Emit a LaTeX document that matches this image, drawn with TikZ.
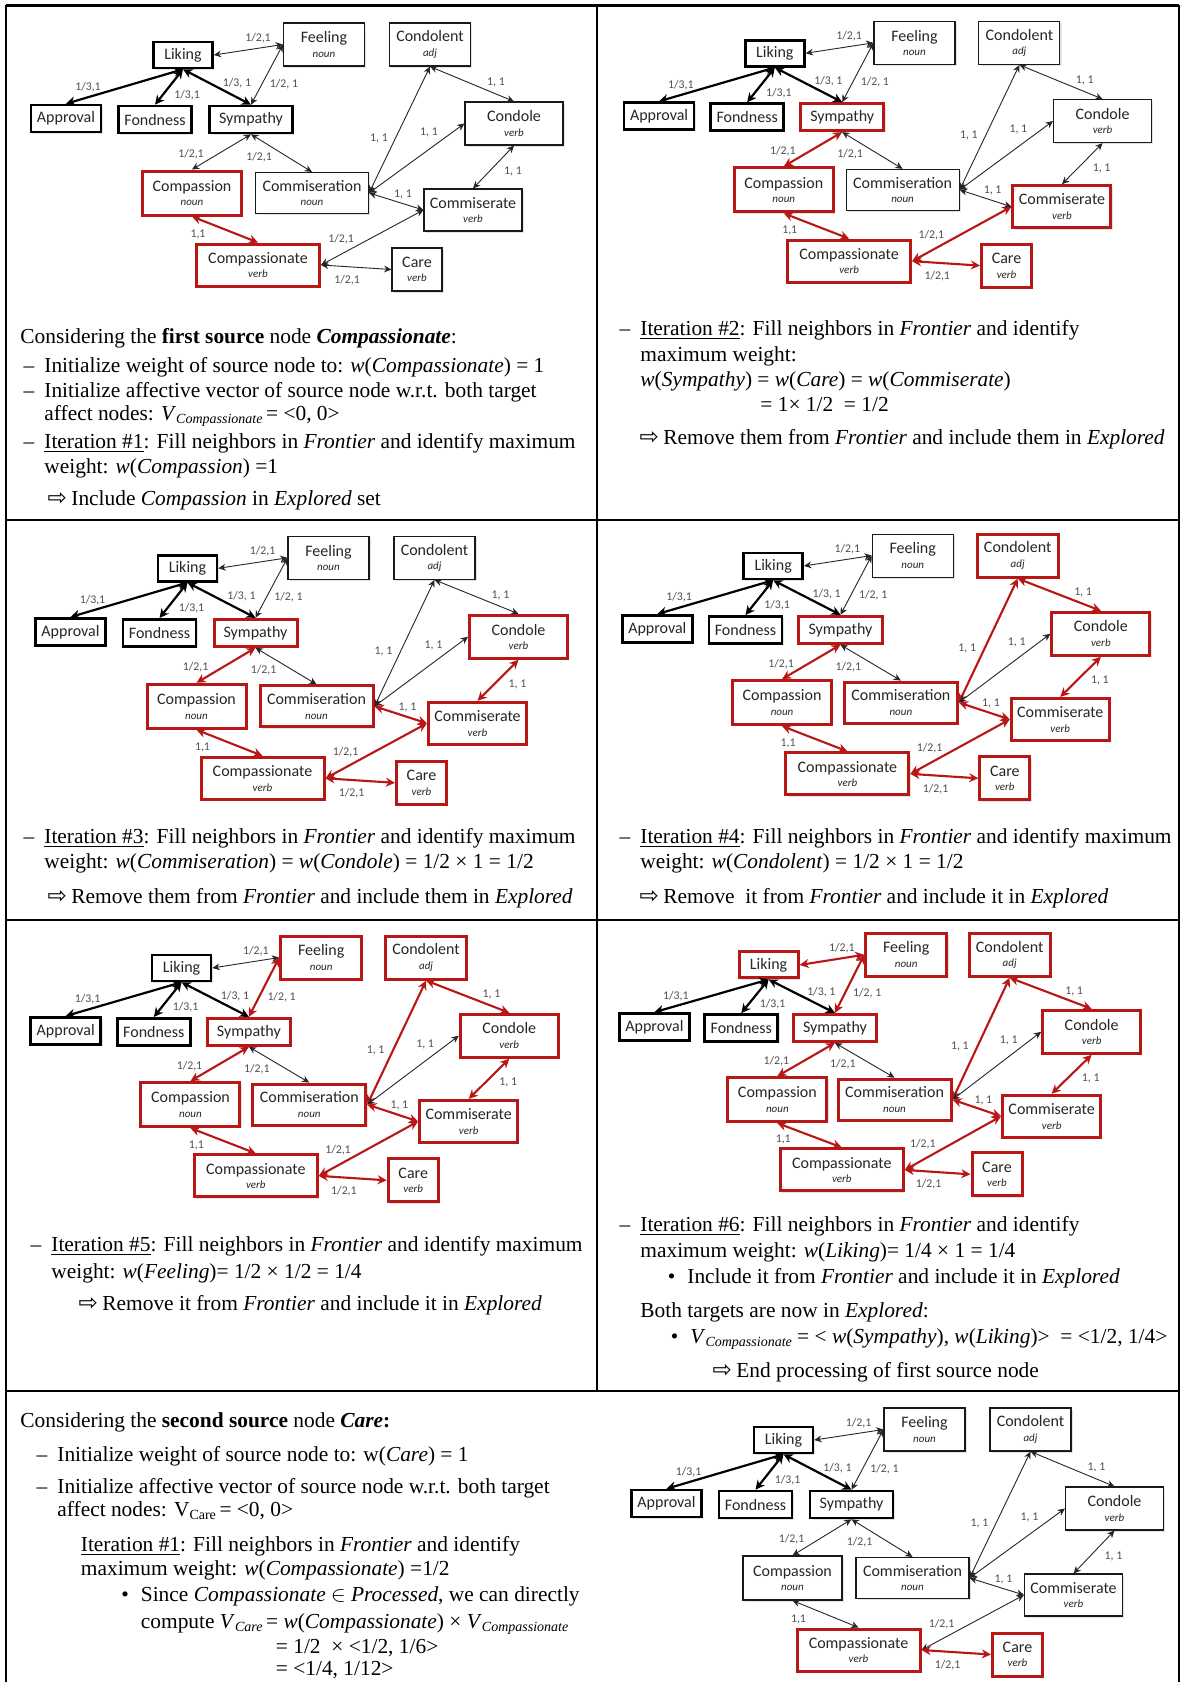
\documentclass[tikz,border=0pt]{standalone}
\usepackage{fontspec}
\setmainfont{Liberation Serif}
\newfontfamily\gfont{Carlito}
\newfontfamily\symf{DejaVu Sans}
\usetikzlibrary{arrows.meta,shadows}
\definecolor{myred}{RGB}{185,22,22}
\definecolor{lblgray}{RGB}{80,80,80}
\newcommand\dsh{\makebox[0pt][r]{–\hspace{5pt}}}
\newcommand\bul{\makebox[0pt][r]{•\hspace{6pt}}}
\newcommand\arr{\makebox[0pt][r]{\raisebox{-0.2pt}{\symf\fontsize{11.5}{11.5}\selectfont ⇨}\hspace{2.2pt}}}
\newcommand\sbs[1]{\raisebox{-0.35ex}{\fontsize{7}{7}\selectfont #1}}
\newcommand\twoline[2]{#1\\[-1.2pt]{\fontsize{5.5}{6}\selectfont\itshape #2}}
\newcommand\affgraph{%
  \node[gnode,thk,nLiking,minimum width=29.5pt,minimum height=13pt] (liking) at (183,55) {Liking};
  \node[gnode,nFeeling,minimum width=40.5pt,minimum height=21.5pt] (feeling) at (324,44.5) {\twoline{Feeling}{noun}};
  \node[gnode,nCondolent,minimum width=40.5pt,minimum height=21.5pt] (condolent) at (430,44.5) {\twoline{Condolent}{adj}};
  \node[gnode,thk,nApproval,minimum width=35pt,minimum height=13.5pt] (approval) at (66,118.5) {Approval};
  \node[gnode,thk,nFondness,minimum width=36.5pt,minimum height=13.5pt] (fondness) at (155,119.5) {Fondness};
  \node[gnode,thk,nSympathy,minimum width=41.5pt,minimum height=13.5pt] (sympathy) at (251,119.5) {Sympathy};
  \node[gnode,nCondole,minimum width=49pt,minimum height=21.5pt] (condole) at (514,123.5) {\twoline{Condole}{verb}};
  \node[gnode,nCompassion,minimum width=49.5pt,minimum height=22pt] (compassion) at (192,193) {\twoline{Compassion}{noun}};
  \node[gnode,nCommiseration,minimum width=56.5pt,minimum height=20.5pt] (commiseration) at (312,193) {\twoline{Commiseration}{noun}};
  \node[gnode,nCommiserate,minimum width=49pt,minimum height=21pt] (commiserate) at (473,210) {\twoline{Commiserate}{verb}};
  \node[gnode,nCompassionate,minimum width=61.5pt,minimum height=21pt] (compassionate) at (258,265) {\twoline{Compassionate}{verb}};
  \node[gnode,nCare,minimum width=25pt,minimum height=21.5pt] (care) at (417,269.5) {\twoline{Care}{verb}};
  \draw[gedge,thkedge,eLA] (liking.south) -- (approval.north);
  \draw[gedge,thkedge,eLFo] (liking.south) -- (fondness.north);
  \draw[gedge,thkedge,eLS] (liking.south) -- (sympathy.north);
  \draw[gedge,eLF] (liking.east) -- (feeling.west);
  \draw[gedge,eFS] (feeling.west) -- (sympathy.north);
  \draw[gedge,eSCn] (sympathy.south) -- (compassion.north);
  \draw[gedge,eSCm] (sympathy.south) -- (commiseration.north);
  \draw[gedge,eCnCt] (compassion.south) -- (compassionate.north);
  \draw[gedge,eCtCe] (compassionate.east) -- (commiserate.west);
  \draw[gedge,eCtCa] (compassionate.east) -- (care.west);
  \draw[gedge,eCmCl] (commiseration.east) -- (condolent.south);
  \draw[gedge,eCmCo] (commiseration.east) -- (condole.west);
  \draw[gedge,eCmCe] (commiseration.east) -- (commiserate.west);
  \draw[gedge,eClCo] (condolent.south) -- (condole.north);
  \draw[gedge,eCoCe] (condole.south) -- (commiserate.north);
  \node[glabel] (lLF) at (258,38) {1/2,1};
  \node[glabel] (lLA) at (88,87) {1/3,1};
  \node[glabel] (lLFo) at (187,95) {1/3,1};
  \node[glabel] (lLS) at (237,83) {1/3, 1};
  \node[glabel] (lFS) at (284,84) {1/2, 1};
  \node[glabel] (lSCn) at (191,154) {1/2,1};
  \node[glabel] (lSCm) at (259,157) {1/2,1};
  \node[glabel] (lCmCl) at (379,138) {1, 1};
  \node[glabel] (lCmCo) at (429,132) {1, 1};
  \node[glabel] (lCmCe) at (403,194) {1, 1};
  \node[glabel] (lClCo) at (496,82) {1, 1};
  \node[glabel] (lCoCe) at (513,171) {1, 1};
  \node[glabel] (lCnCt) at (198,234) {1,1};
  \node[glabel] (lCtCe) at (341,239) {1/2,1};
  \node[glabel] (lCtCa) at (347,280) {1/2,1};
}
\begin{document}
\begin{tikzpicture}[x=0.5pt,y=-0.5pt,
  gnode/.style={draw=black!90, line width=0.55pt, fill=white, inner sep=0pt, align=center,
     font=\gfont\fontsize{8}{8.5}\selectfont, text=black!85,
     drop shadow={shadow xshift=0.9pt, shadow yshift=-0.9pt, opacity=0.22}},
  thk/.style={line width=1.3pt, draw=black},
  rnode/.style={draw=myred, line width=1.5pt},
  gedge/.style={<->, >={Stealth[length=3pt 1.5, width=2.6pt 1.8]}, line width=0.45pt, draw=black!85},
  thkedge/.style={line width=1.1pt, draw=black},
  redge/.style={draw=myred, line width=1.05pt},
  glabel/.style={font=\gfont\fontsize{5.9}{6}\selectfont, text=lblgray, inner sep=0pt},
  txt/.style={anchor=base west, inner sep=0pt, font=\fontsize{10.7}{11.5}\selectfont},
  grid/.style={line width=1.1pt, draw=black},
  nLiking/.style={}, nFeeling/.style={}, nCondolent/.style={}, nApproval/.style={},
  nFondness/.style={}, nSympathy/.style={}, nCondole/.style={}, nCompassion/.style={},
  nCommiseration/.style={}, nCommiserate/.style={}, nCompassionate/.style={}, nCare/.style={},
  eLA/.style={}, eLFo/.style={}, eLS/.style={}, eLF/.style={}, eFS/.style={}, eSCn/.style={},
  eSCm/.style={}, eCnCt/.style={}, eCtCe/.style={}, eCtCa/.style={}, eCmCl/.style={},
  eCmCo/.style={}, eCmCe/.style={}, eClCo/.style={}, eCoCe/.style={},
  p1/.style={nCompassion/.style={rnode}, nCompassionate/.style={rnode}, eCnCt/.style={redge}},
  p2/.style={p1, nSympathy/.style={rnode}, nCommiserate/.style={rnode}, nCare/.style={rnode},
     eSCn/.style={redge}, eCtCe/.style={redge}, eCtCa/.style={redge}},
  p3/.style={p2, nCommiseration/.style={rnode}, nCondole/.style={rnode},
     eCmCe/.style={redge}, eCoCe/.style={redge}},
  p4/.style={p3, nCondolent/.style={rnode}, eCmCl/.style={redge}, eClCo/.style={redge}},
  p5/.style={p4, nFeeling/.style={rnode}, eFS/.style={redge}},
  p6/.style={p5, nLiking/.style={rnode}, eLF/.style={redge}},
  p7/.style={nCompassionate/.style={rnode}, nCare/.style={rnode}, eCtCa/.style={redge}}
]
\useasboundingbox[fill=white] (0,0) rectangle (1181,1682);
% table rules
\draw[grid] (6,5.5) -- (1179,5.5);
\draw[grid] (6,5) -- (6,1682);
\draw[grid] (1179,5) -- (1179,1682);
\draw[grid] (6,520) -- (1179,520);
\draw[grid] (6,920) -- (1179,920);
\draw[grid] (6,1391) -- (1179,1391);
\draw[grid] (597,5) -- (597,1391);
% graphs
\begin{scope}[name prefix=g1-, p1]
  \affgraph
\end{scope}
\begin{scope}[shift={(593.7,-1.2)}, scale=0.99, name prefix=g2-, p2]
  \affgraph
\end{scope}
\begin{scope}[shift={(4.5,513.3)}, name prefix=g3-, p3]
  \affgraph
\end{scope}
\begin{scope}[shift={(592,511.5)}, scale=0.99, name prefix=g4-, p4]
  \affgraph
\end{scope}
\begin{scope}[shift={(0.4,913.5)}, scale=0.99, name prefix=g5-, p5]
  \affgraph
\end{scope}
\begin{scope}[shift={(590,911.3)}, scale=0.976, name prefix=g6-, p6]
  \affgraph
\end{scope}
\begin{scope}[shift={(600.5,1385)}, name prefix=g7-, p7]
  \affgraph
\end{scope}
% row 1 left
\node[txt] (t1a) at (20,343) {Considering the \textbf{first source} node \textbf{\textit{Compassionate}}:};
\node[txt] (t1b) at (44,372) {\dsh Initialize weight of source node to: \textit{w}(\textit{Compassionate}) = 1};
\node[txt] (t1c) at (44,397.5) {\dsh Initialize affective vector of source node w.r.t. both target};
\node[txt] (t1d) at (44,420) {affect nodes: \textit{V}\sbs{\textit{Compassionate}}\,= <0, 0>};
\node[txt] (t1e) at (44,448) {\dsh\underline{Iteration \#1}: Fill neighbors in \textit{Frontier} and identify maximum};
\node[txt] (t1f) at (44,473) {weight: \textit{w}(\textit{Compassion}) =1};
\node[txt] (t1g) at (71,505) {\arr Include \textit{Compassion} in \textit{Explored} set};
% row 1 right
\node[txt] (t2a) at (640,335) {\dsh\underline{Iteration \#2}: Fill neighbors in \textit{Frontier} and identify};
\node[txt] (t2b) at (640,361) {maximum weight:};
\node[txt] (t2c) at (640,386) {\textit{w}(\textit{Sympathy}) = \textit{w}(\textit{Care}) = \textit{w}(\textit{Commiserate})};
\node[txt] (t2d) at (760,411) {= 1× 1/2 \ = 1/2};
\node[txt] (t2e) at (663,444) {\arr Remove them from \textit{Frontier} and include them in \textit{Explored}};
% row 2
\node[txt] (t3a) at (44,843) {\dsh\underline{Iteration \#3}: Fill neighbors in \textit{Frontier} and identify maximum};
\node[txt] (t3b) at (44,868) {weight: \textit{w}(\textit{Commiseration}) = \textit{w}(\textit{Condole}) = 1/2 × 1 = 1/2};
\node[txt] (t3c) at (71,903) {\arr Remove them from \textit{Frontier} and include them in \textit{Explored}};
\node[txt] (t4a) at (640,843) {\dsh\underline{Iteration \#4}: Fill neighbors in \textit{Frontier} and identify maximum};
\node[txt] (t4b) at (640,868) {weight: \textit{w}(\textit{Condolent}) = 1/2 × 1 = 1/2};
\node[txt] (t4c) at (663,903) {\arr Remove \ it from \textit{Frontier} and include it in \textit{Explored}};
% row 3
\node[txt] (t5a) at (51,1251) {\dsh\underline{Iteration \#5}: Fill neighbors in \textit{Frontier} and identify maximum};
\node[txt] (t5b) at (51,1278) {weight: \textit{w}(\textit{Feeling})= 1/2 × 1/2 = 1/4};
\node[txt] (t5c) at (102,1310) {\arr Remove it from \textit{Frontier} and include it in \textit{Explored}};
\node[txt] (t6a) at (640,1231) {\dsh\underline{Iteration \#6}: Fill neighbors in \textit{Frontier} and identify};
\node[txt] (t6b) at (640,1257) {maximum weight: \textit{w}(\textit{Liking})= 1/4 × 1 = 1/4};
\node[txt] (t6c) at (687,1283) {\bul Include it from \textit{Frontier} and include it in \textit{Explored}};
\node[txt] (t6d) at (640,1317) {Both targets are now in \textit{Explored}:};
\node[txt] (t6e) at (690,1343) {\bul\textit{V}\sbs{\textit{Compassionate}} = < \textit{w}(\textit{Sympathy}), \textit{w}(\textit{Liking})> \ = <1/2, 1/4>};
\node[txt] (t6f) at (736,1377) {\arr End processing of first source node};
% row 4
\node[txt] (t7a) at (20,1427) {Considering the \textbf{second source} node \textbf{\textit{Care}:}};
\node[txt] (t7b) at (57,1461) {\dsh Initialize weight of source node to: w(\textit{Care}) = 1};
\node[txt] (t7c) at (57,1493) {\dsh Initialize affective vector of source node w.r.t. both target};
\node[txt] (t7d) at (57,1516) {affect nodes: V\sbs{Care}\,= <0, 0>};
\node[txt] (t7e) at (80.5,1551) {\underline{Iteration \#1}: Fill neighbors in \textit{Frontier} and identify};
\node[txt] (t7f) at (80.5,1575) {maximum weight: \textit{w}(\textit{Compassionate}) =1/2};
\node[txt] (t7g) at (140.5,1601) {\bul Since \textit{Compassionate} $\in$ \textit{Processed}, we can directly};
\node[txt] (t7h) at (140.5,1628) {compute \textit{V}\sbs{\textit{Care}}\,= \textit{w}(\textit{Compassionate}) × \textit{V}\sbs{\textit{Compassionate}}};
\node[txt] (t7i) at (275.5,1653) {= 1/2 \ × <1/2, 1/6>};
\node[txt] (t7j) at (275.5,1675) {= <1/4, 1/12>};
\end{tikzpicture}
\end{document}
